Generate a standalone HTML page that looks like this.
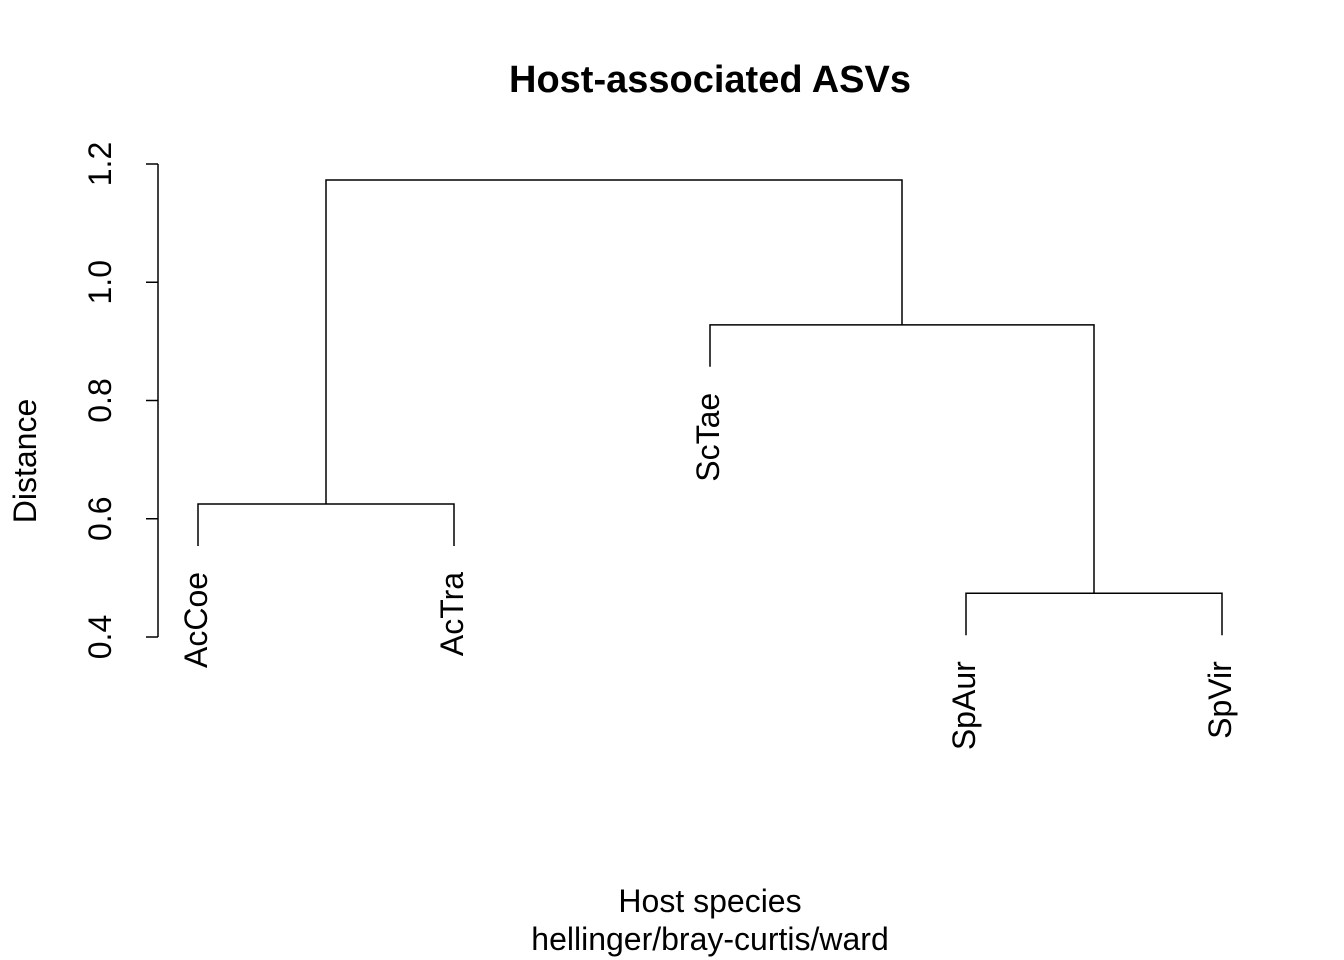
<!DOCTYPE html>
<html><head><meta charset="utf-8"><style>
body{margin:0;background:#fff}
svg{display:block;font-family:"Liberation Sans",Arial,sans-serif}
</style></head><body>
<svg id="chart" width="1344" height="960" viewBox="0 0 1344 960" xmlns="http://www.w3.org/2000/svg">
<text x="710" y="92" text-anchor="middle" font-size="38" font-weight="bold">Host-associated ASVs</text>
<text transform="translate(36,461) rotate(-90)" text-anchor="middle" font-size="32">Distance</text>
<text x="710" y="912" text-anchor="middle" font-size="32">Host species</text>
<text x="710" y="950" text-anchor="middle" font-size="32">hellinger/bray-curtis/ward</text>
<g id="axis"></g>
<g id="tree"></g>
</svg>
<script>
const leafLabels = ["AcCoe","AcTra","ScTae","SpAur","SpVir"];
// merges: negative = leaf index (1-based), positive = merge index (1-based)
const mergeLeft = [-1, -4, -3, 1];
const mergeRight = [-2, -5, 2, 3];
const mergeHeights = [0.625, 0.474, 0.928, 1.173];
const hang = 0.071;
const yTicks = [0.4, 0.6, 0.8, 1.0, 1.2];
const yTickLabels = ["0.4","0.6","0.8","1.0","1.2"];

const NS = "http://www.w3.org/2000/svg";
function yScale(v){ return 637 - (v - 0.4) * 591.25; }
function xScale(i){ return 198 + i * 256; }
function mk(tag, attrs, parent){
  const e = document.createElementNS(NS, tag);
  for (const k in attrs) e.setAttribute(k, attrs[k]);
  parent.appendChild(e); return e;
}
const axis = document.getElementById('axis');
const tree = document.getElementById('tree');
const st = {stroke:"#000","stroke-width":1.5,fill:"none"};
const axLine = mk('line', Object.assign({x1:158,x2:158,y1:yScale(yTicks[0]),y2:yScale(yTicks[yTicks.length-1])}, st), axis);


yTicks.forEach((t, i) => {
  const y = yScale(t);
  const tk = mk('line', Object.assign({x1:146,x2:158,y1:y,y2:y}, st), axis);
  
  
  const tx = mk('text', {transform:`translate(111,${y}) rotate(-90)`, "text-anchor":"middle", "font-size":32}, axis);
  tx.textContent = yTickLabels[i];
  
  
});
const mergeX = [];
function nodeX(n){ return n < 0 ? xScale(-n - 1) : mergeX[n - 1]; }
function nodeTop(n, parentH){ return n < 0 ? parentH - hang : mergeHeights[n - 1]; }
mergeHeights.forEach((h, i) => {
  const l = mergeLeft[i], r = mergeRight[i];
  const xl = nodeX(l), xr = nodeX(r);
  mergeX.push((xl + xr) / 2);
  const y = yScale(h);
  const p = mk('path', Object.assign({d:`M${xl},${yScale(nodeTop(l,h))}V${y}H${xr}V${yScale(nodeTop(r,h))}`}, st), tree);
  
  
  [l, r].forEach(n => {
    if (n < 0) {
      const yl = yScale(h - hang) + 26;
      const lb = mk('text', {transform:`translate(${xScale(-n-1)+9},${yl}) rotate(-90)`, "text-anchor":"end", "font-size":32}, tree);
      lb.textContent = leafLabels[-n - 1];
      
      
    }
  });
});
</script>
</body></html>
